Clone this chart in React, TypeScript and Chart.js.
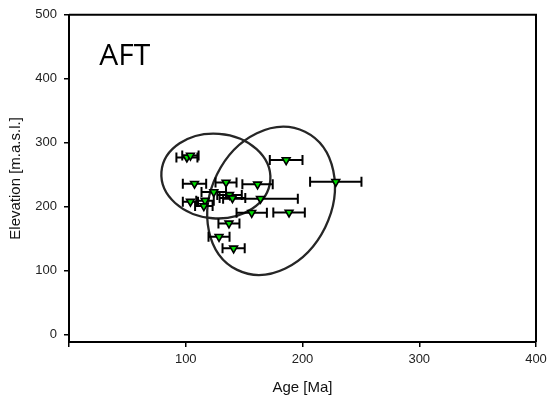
import React, { useEffect, useRef } from "react";
import { Chart, registerables } from "chart.js";

Chart.register(...registerables);

// Data
const ages = [101, 104, 107.5, 134.5, 161.5, 186, 228.5, 124, 137.5, 140, 164, 104, 116.5, 115.5, 156.5, 188.5, 137, 128.5, 141];
const elevations = [277, 280, 236, 238, 235, 273, 239, 223, 218.5, 213.5, 212.5, 208, 209.5, 201, 190.5, 191, 174, 153, 135];
const ageErrors = [9, 7, 10, 9, 13, 14, 22, 10.5, 10.5, 11, 32, 6.5, 7.5, 7.5, 13, 13.5, 9, 9, 9.5];

const xTicks = [0, 100, 200, 300, 400];
const yTicks = [0, 100, 200, 300, 400, 500];

// Ellipses (data units): centre, half extents, x position of the top-most point
const ellipseCx = [125.8, 173.1];
const ellipseCy = [248, 209.2];
const ellipseHalfW = [46.7, 54.65];
const ellipseHalfH = [66.3, 115.6];
const ellipseTopX = [124, 183.6];

const panelLabel = "AFT";
const panelLabelPos = { x: 26, y: 422 };

const FONT = "'Liberation Sans', Arial, sans-serif";

const overlayPlugin = {
  id: "overlay",
  beforeDatasetsDraw(chart: any) {
    const { ctx, chartArea } = chart;
    const xs = chart.scales.x;
    const ys = chart.scales.y;
    ctx.save();
    // frame (top + right)
    ctx.strokeStyle = "#000";
    ctx.lineWidth = 2;
    ctx.beginPath();
    ctx.moveTo(chartArea.left, chartArea.top);
    ctx.lineTo(chartArea.right, chartArea.top);
    ctx.lineTo(chartArea.right, chartArea.bottom);
    ctx.stroke();

    // ellipses
    ctx.strokeStyle = "#262626";
    ctx.lineWidth = 2.3;
    for (let i = 0; i < ellipseCx.length; i++) {
      const cx = xs.getPixelForValue(ellipseCx[i]);
      const cy = ys.getPixelForValue(ellipseCy[i]);
      const W = Math.abs(xs.getPixelForValue(ellipseCx[i] + ellipseHalfW[i]) - cx);
      const H = Math.abs(ys.getPixelForValue(ellipseCy[i] + ellipseHalfH[i]) - cy);
      const dx = xs.getPixelForValue(ellipseTopX[i]) - cx;
      const C = dx * H;
      const a2 = W * W, b2 = H * H;
      const m = (a2 + b2) / 2;
      const d = Math.sqrt(((a2 - b2) / 2) ** 2 + C * C);
      const l1 = m + d, l2 = Math.max(m - d, 0);
      const phi = 0.5 * Math.atan2(2 * C, a2 - b2);
      ctx.beginPath();
      ctx.ellipse(cx, cy, Math.sqrt(l1), Math.sqrt(l2), -phi, 0, Math.PI * 2);
      ctx.stroke();
    }

    // error bars
    ctx.strokeStyle = "#000";
    ctx.lineWidth = 2;
    for (let i = 0; i < ages.length; i++) {
      const y = ys.getPixelForValue(elevations[i]);
      const x1 = xs.getPixelForValue(ages[i] - ageErrors[i]);
      const x2 = xs.getPixelForValue(ages[i] + ageErrors[i]);
      ctx.beginPath();
      ctx.moveTo(x1, y);
      ctx.lineTo(x2, y);
      ctx.moveTo(x1, y - 5);
      ctx.lineTo(x1, y + 5);
      ctx.moveTo(x2, y - 5);
      ctx.lineTo(x2, y + 5);
      ctx.stroke();
    }

    // panel label
    ctx.fillStyle = "#000";
    ctx.font = "30px 'Open Sans', sans-serif";
    ctx.textAlign = "left";
    ctx.textBaseline = "alphabetic";
    ctx.fillText(panelLabel, xs.getPixelForValue(panelLabelPos.x), ys.getPixelForValue(panelLabelPos.y));
    ctx.restore();
  },
};

export default function App() {
  const ref = useRef<HTMLCanvasElement>(null);
  useEffect(() => {
    document.body.style.margin = "0";
    const canvas = ref.current!;
    const chart = new Chart(canvas, {
      type: "scatter",
      data: {
        datasets: [
          {
            data: ages.map((x, i) => ({ x, y: elevations[i] })),
            pointStyle: "triangle",
            rotation: 180,
            radius: 4.5,
            backgroundColor: "#00dd00",
            borderColor: "#000",
            borderWidth: 1.6,
          } as any,
        ],
      },
      options: {
        animation: false,
        responsive: false,
        maintainAspectRatio: false,
        layout: { padding: { top: 14, right: 0, left: 0, bottom: 0 } },
        plugins: { legend: { display: false }, tooltip: { enabled: false } },
        scales: {
          x: {
            type: "linear",
            position: "bottom",
            min: 0,
            max: 400,
            afterBuildTicks: (s: any) => {
              s.ticks = xTicks.map((v) => ({ value: v }));
            },
            afterFit: (s: any) => {
              s.height = 59;
              s.paddingRight = 11;
              s.paddingLeft = 0;
            },
            ticks: {
              autoSkip: false,
              maxRotation: 0,
              padding: 5,
              color: "#222",
              font: { family: FONT, size: 13 },
              callback: (v: any) => (v === 0 ? "" : String(v)),
            },
            grid: { drawOnChartArea: false, drawTicks: true, tickLength: 5, color: "#000", lineWidth: 1.5 },
            border: { display: true, color: "#000", width: 2 },
            title: { display: true, text: "Age [Ma]", color: "#111", font: { family: FONT, size: 15 }, padding: { top: 0, bottom: 4 } },
          },
          y: {
            type: "linear",
            min: -11.4,
            max: 500,
            afterBuildTicks: (s: any) => {
              s.ticks = yTicks.map((v) => ({ value: v }));
            },
            afterFit: (s: any) => {
              s.width = 69;
            },
            ticks: {
              autoSkip: false,
              padding: 7,
              color: "#222",
              font: { family: FONT, size: 13 },
            },
            grid: { drawOnChartArea: false, drawTicks: true, tickLength: 5, color: "#000", lineWidth: 1.5 },
            border: { display: true, color: "#000", width: 2 },
            title: { display: true, text: "Elevation [m.a.s.l.]", color: "#111", font: { family: FONT, size: 15 }, padding: { top: 7, bottom: 0 } },
          },
        },
      } as any,
      plugins: [overlayPlugin],
    });
    return () => chart.destroy();
  }, []);
  return (
    <div style={{ width: 547, height: 401 }}>
      <canvas ref={ref} width={547} height={401} style={{ display: "block" }} />
    </div>
  );
}
